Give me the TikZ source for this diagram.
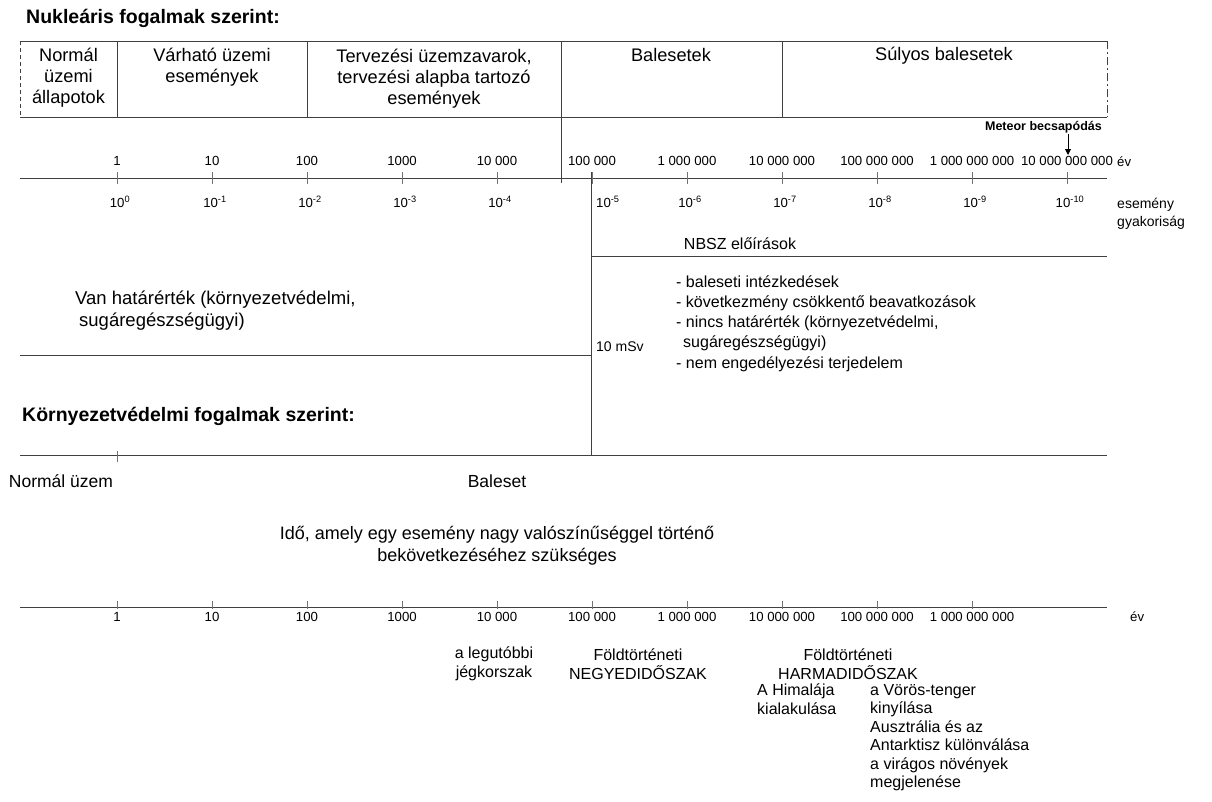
\documentclass[tikz,border=0pt]{standalone}
\usepackage{fontspec}
\setmainfont{Liberation Sans}
\usetikzlibrary{arrows.meta}
\begin{document}
\begin{tikzpicture}[x=1pt,y=-1pt,
  ln/.style={line width=1pt, draw=black!75},
  tk/.style={line width=0.9pt, draw=black!55},
  lab/.style={inner sep=0pt, text=black},
  big/.style={lab, font=\fontsize{18.2}{21}\selectfont, align=center},
  mid/.style={lab, font=\fontsize{16}{18.5}\selectfont},
  yr/.style={lab, font=\fontsize{13.2}{16}\selectfont},
  ttl/.style={lab, font=\fontsize{19.5}{22}\selectfont\bfseries, anchor=west},
]
\useasboundingbox (0,0) rectangle (1212,801);

% ---------- titles
\node[ttl] (t1) at (26,18) {Nukleáris fogalmak szerint:};
\node[ttl] (t2) at (22,416) {Környezetvédelmi fogalmak szerint:};

% ---------- top box
\coordinate (bTL) at (20,41);  \coordinate (bTR) at (1107,41);
\coordinate (bBL) at (20,117); \coordinate (bBR) at (1107,117);
\draw[ln] (bTL) -- (bTR);
\draw[ln] (bBL) -- (bBR);
\draw[ln, dash pattern=on 4pt off 3pt] (bTL) -- (bBL);
\draw[ln, dash pattern=on 8pt off 3pt on 2pt off 3pt] (bTR) -- (bBR);
\coordinate (s1t) at (117,41); \coordinate (s1b) at (117,117);
\coordinate (s2t) at (307,41); \coordinate (s2b) at (307,117);
\coordinate (s3t) at (561,41); \coordinate (s3b) at (561,183);
\coordinate (s4t) at (782,41); \coordinate (s4b) at (782,117);
\draw[ln] (s1t) -- (s1b);
\draw[ln] (s2t) -- (s2b);
\draw[ln] (s3t) -- (s3b);
\draw[ln] (s4t) -- (s4b);

\node[big] (c1) at (68.5,77.5) {Normál\\üzemi\\állapotok};
\node[big] (c2) at (212,67) {Várható üzemi\\események};
\node[big] (c3) at (434,79) {Tervezési üzemzavarok,\\tervezési alapba tartozó\\események};
\node[big] (c4) at (671,55) {Balesetek};
\node[big] (c5) at (944,56) {Súlyos balesetek};

% ---------- meteor
\node[lab, font=\fontsize{12.5}{14}\selectfont\bfseries, anchor=east] (met) at (1102,127) {Meteor becsapódás};
\coordinate (mA) at (1068,134);
\coordinate (mB) at (1068,155);
\draw[line width=0.9pt, -{Triangle[length=6pt,width=6pt]}] (mA) -- (mB);

% ---------- upper axis
\coordinate (a1L) at (20,178); \coordinate (a1R) at (1107,178);
\draw[ln] (a1L) -- (a1R);
\foreach \i/\lbl/\ex in {0/1/0,1/10/-1,2/100/-2,3/1000/-3,4/10 000/-4,5/100 000/-5,6/1 000 000/-6,7/10 000 000/-7,8/100 000 000/-8,9/1 000 000 000/-9,10/10 000 000 000/-10}{
  \coordinate (t\i) at ({117+95*\i},178);
  \draw[tk] ([yshift=-6pt]t\i) -- ([yshift=6pt]t\i);
  \node[yr] (y\i) at ([yshift=17pt]t\i) {\lbl};
  \ifnum\i=5\else
    \node[yr] (e\i) at ([xshift=3pt,yshift=-24pt]t\i) {10\textsuperscript{\ex}};
  \fi
}
\node[yr, anchor=west] (ev1) at (1117,162) {év};
\node[yr, anchor=west] (e5) at (596,202) {10\textsuperscript{-5}};
\node[lab, anchor=north west, align=left, font=\fontsize{14}{18}\selectfont] (gy) at (1117,198) {esemény\\gyakoriság};

% ---------- NBSZ region
\coordinate (vT) at (591,172); \coordinate (vB) at (591,455);
\draw[ln] (vT) -- (vB);
\node[mid] (nbsz) at (740,244) {NBSZ előírások};
\coordinate (nL) at (591,256); \coordinate (nR) at (1107,256);
\draw[ln] (nL) -- (nR);
\node[lab, font=\fontsize{16}{20.2}\selectfont, align=left, anchor=west] (list) at (676,323.5)
  {- baleseti intézkedések\\- következmény csökkentő beavatkozások\\- nincs határérték (környezetvédelmi,\\\hspace{7pt}sugáregészségügyi)\\- nem engedélyezési terjedelem};
\node[lab, font=\fontsize{14}{16}\selectfont, anchor=west] (msv) at (596,347) {10 mSv};
\node[lab, font=\fontsize{18.5}{22}\selectfont, align=left, anchor=west] (van) at (75,311)
  {Van határérték (környezetvédelmi,\\\hspace{4pt}sugáregészségügyi)};
\coordinate (hL) at (20,355); \coordinate (hR) at (591,355);
\draw[ln] (hL) -- (hR);

% ---------- environmental line
\coordinate (kL) at (20,455); \coordinate (kR) at (1107,455);
\draw[ln] (kL) -- (kR);
\coordinate (kt) at (117,455);
\draw[tk] ([yshift=4pt]kt) -- ([yshift=-7pt]kt);
\node[lab, font=\fontsize{17.5}{21}\selectfont] (nu) at (61,481) {Normál üzem};
\node[lab, font=\fontsize{17.5}{21}\selectfont] (bal) at (497,481) {Baleset};
\node[lab, font=\fontsize{18}{22}\selectfont, align=center] (ido) at (497,546) {Idő, amely egy esemény nagy valószínűséggel történő\\bekövetkezéséhez szükséges};

% ---------- lower axis
\coordinate (a2L) at (20,607); \coordinate (a2R) at (1107,607);
\draw[ln] (a2L) -- (a2R);
\foreach \i/\lbl in {0/1,1/10,2/100,3/1000,4/10 000,5/100 000,6/1 000 000,7/10 000 000,8/100 000 000,9/1 000 000 000}{
  \coordinate (b\i) at ({117+95*\i},607);
  \draw[tk] ([yshift=6pt]b\i) -- ([yshift=-2pt]b\i);
  \node[yr] (z\i) at ([yshift=-10pt]b\i) {\lbl};
}
\node[yr, anchor=west] (ev2) at (1130,617) {év};

\node[mid, align=center] (jeg) at (494,664) {a legutóbbi\\jégkorszak};
\node[mid, align=center] (negy) at (638,664) {Földtörténeti\\NEGYEDIDŐSZAK};
\node[mid, align=center] (harm) at (848,664) {Földtörténeti\\HARMADIDŐSZAK};
\node[mid, align=left, anchor=north west] (him) at (757,684) {A Himalája\\kialakulása};
\node[mid, align=left, anchor=north west] (vor) at (870,684)
  {a Vörös-tenger\\kinyílása\\Ausztrália és az\\Antarktisz különválása\\a virágos növények\\megjelenése};
\end{tikzpicture}
\end{document}
